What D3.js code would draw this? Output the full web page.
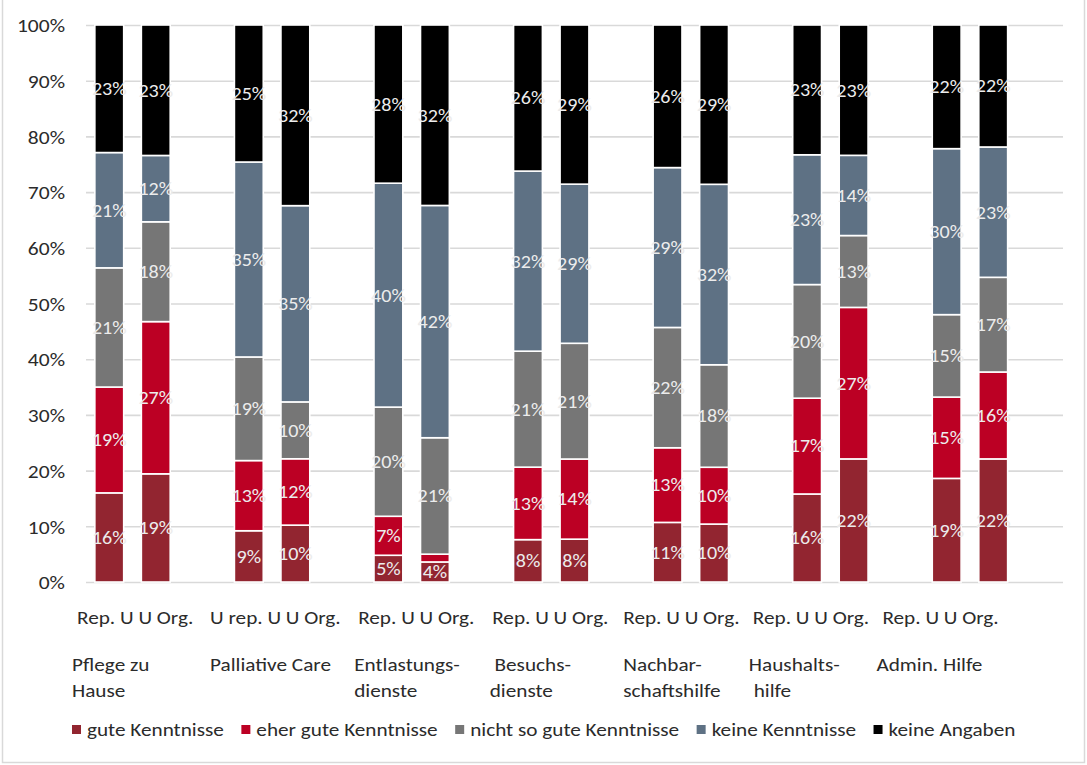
<!DOCTYPE html>
<html>
<head>
<meta charset="utf-8">
<script src="https://cdn.jsdelivr.net/npm/d3@7"></script>
<style>
  body { margin: 0; background: #fff; }
  svg { display: block; }
  text { font-family: Carlito, Calibri, "Open Sans", sans-serif; }
</style>
</head>
<body>
<svg id="chart" width="1087" height="765"></svg>
<script>
// Service categories (label lines) and the two respondent groups per service
const categories = [
  ["Pflege zu", "Hause"],
  ["Palliative Care"],
  ["Entlastungs-", "dienste"],
  [" Besuchs-", "dienste"],
  ["Nachbar-", "schaftshilfe"],
  ["Haushalts-", " hilfe"],
  ["Admin. Hilfe"]
];
const groupLabels = [
  ["Rep. U", "U Org."],
  ["U rep. U", "U Org."],
  ["Rep. U", "U Org."],
  ["Rep. U", "U Org."],
  ["Rep. U", "U Org."],
  ["Rep. U", "U Org."],
  ["Rep. U", "U Org."]
];
const seriesNames = ["gute Kenntnisse", "eher gute Kenntnisse", "nicht so gute Kenntnisse", "keine Kenntnisse", "keine Angaben"];

// Shares in percent, two bars per category (Rep. U, U Org.)
const guteKenntnisse      = [16.0, 19.4,  9.2, 10.2,  4.8,  3.6,  7.6,  7.7, 10.7, 10.4, 15.8, 22.1, 18.6, 22.1];
const eherGuteKenntnisse  = [19.0, 27.3, 12.6, 11.9,  7.0,  1.4, 13.0, 14.4, 13.4, 10.2, 17.2, 27.2, 14.6, 15.6];
const nichtSoGute         = [21.4, 17.9, 18.6, 10.2, 19.6, 20.9, 20.8, 20.8, 21.6, 18.4, 20.4, 12.9, 14.8, 17.0];
const keineKenntnisse     = [20.7, 11.9, 35.0, 35.2, 40.2, 41.7, 32.3, 28.6, 28.7, 32.4, 23.3, 14.4, 29.8, 23.4];
const keineAngaben        = [22.9, 23.4, 24.6, 32.4, 28.4, 32.4, 26.2, 28.6, 25.6, 28.6, 23.3, 23.4, 22.2, 21.9];
const yTicks = [0, 0.1, 0.2, 0.3, 0.4, 0.5, 0.6, 0.7, 0.8, 0.9, 1.0];

const colors = ["#922530", "#BC0024", "#767676", "#5E7184", "#000000"];
const seriesValues = [guteKenntnisse, eherGuteKenntnisse, nichtSoGute, keineKenntnisse, keineAngaben];

// Rows for the stack: one per bar
const rows = [];
categories.forEach((c, g) => {
  [0, 1].forEach(b => {
    const row = { group: g, bar: b };
    seriesNames.forEach((s, k) => { row[s] = seriesValues[k][g * 2 + b]; });
    rows.push(row);
  });
});

const svg = d3.select("#chart");
const W = 1087, H = 765;
const plot = { left: 86, right: 1063, top: 25, bottom: 582 };
// Text is drawn slightly widened horizontally
const textStretch = 1.1;
const placeText = (sel, x, y) => sel.attr("transform", `translate(${x},${y}) scale(${textStretch},1)`);

// Outer chart frame
svg.append("rect")
  .attr("x", 2.5).attr("y", -2).attr("width", W - 5).attr("height", H - 0.5)
  .attr("fill", "#fff").attr("stroke", "#d9d9d9").attr("stroke-width", 1.5);

const x0 = d3.scaleBand().domain(d3.range(categories.length)).range([plot.left, plot.right]);
const x1 = d3.scaleBand().domain([0, 1, 2]).range([0, x0.bandwidth()]);
const barW = x1.bandwidth() * 0.62;
const barX = d => x0(d.group) + x1(d.bar) + (x1.bandwidth() - barW) / 2;

const y = d3.scaleLinear().domain([0, 1]).range([plot.bottom, plot.top]);

// Gridlines and y tick labels
const yAxis = d3.axisLeft(y).tickValues(yTicks).tickFormat(d3.format(".0%"))
  .tickSize(-(plot.right - plot.left)).tickPadding(21);
const gy = svg.append("g").attr("transform", `translate(${plot.left},0)`).call(yAxis);
gy.select(".domain").remove();
gy.selectAll(".tick line").attr("stroke", "#d9d9d9").attr("stroke-width", 1.6);
gy.selectAll(".tick text").attr("fill", "#2b2b2b").attr("font-size", 19.2)
  .attr("x", 0).attr("y", 0).attr("dy", "0.35em")
  .attr("transform", `translate(-21,0) scale(1.12,1)`);

// Stacked bars (100% stacked)
const stack = d3.stack().keys(seriesNames).offset(d3.stackOffsetExpand);
const stacked = stack(rows);

const layers = svg.append("g").selectAll("g").data(stacked).join("g")
  .attr("fill", (d, i) => colors[i]);

layers.selectAll("rect").data(d => d).join("rect")
  .attr("x", d => barX(d.data))
  .attr("y", d => y(d[1]))
  .attr("width", barW)
  .attr("height", d => y(d[0]) - y(d[1]))
  .attr("stroke", "#ffffff").attr("stroke-width", 1.6);

// Value labels centred in each segment
const labelG = svg.append("g");
stacked.forEach(layer => {
  layer.forEach(d => {
    const v = d.data[layer.key];
    if (v < 2) return;
    labelG.append("text")
      .call(placeText, barX(d.data) + barW / 2, y((d[0] + d[1]) / 2))
      .attr("dy", "0.35em")
      .attr("text-anchor", "middle")
      .attr("font-size", 18.3)
      .attr("fill", "#ececec")
      .text(Math.round(v) + "%");
  });
});

// Category axis labels (two rows)
const subNudge = [-9, -15.5, -7, -12.5, -21, -31, -41];
const catNudge = [-14, -15.5, -11, -15, -21, -35, -47];
const axisG = svg.append("g").attr("fill", "#2b2b2b").attr("font-size", 19.3);
groupLabels.forEach((gl, g) => {
  axisG.append("text")
    .call(placeText, x0(g) + subNudge[g], 617).attr("dy", "0.35em")
    .style("white-space", "pre")
    .text(gl.join(" "));
});
categories.forEach((lines, g) => {
  lines.forEach((ln, i) => {
    axisG.append("text")
      .call(placeText, x0(g) + catNudge[g], 664 + i * 26).attr("dy", "0.35em")
      .style("white-space", "pre")
      .text(ln);
  });
});

// Legend
const legend = svg.append("g").attr("font-size", 19.3).attr("fill", "#2b2b2b");
let lx = 72;
seriesNames.forEach((name, i) => {
  legend.append("rect").attr("x", lx).attr("y", 725).attr("width", 9).attr("height", 9).attr("fill", colors[i]);
  const t = legend.append("text").call(placeText, lx + 15, 729.5).attr("dy", "0.35em").text(name);
  lx += 15 + t.node().getComputedTextLength() * textStretch + 17.5;
});
</script>
</body>
</html>
